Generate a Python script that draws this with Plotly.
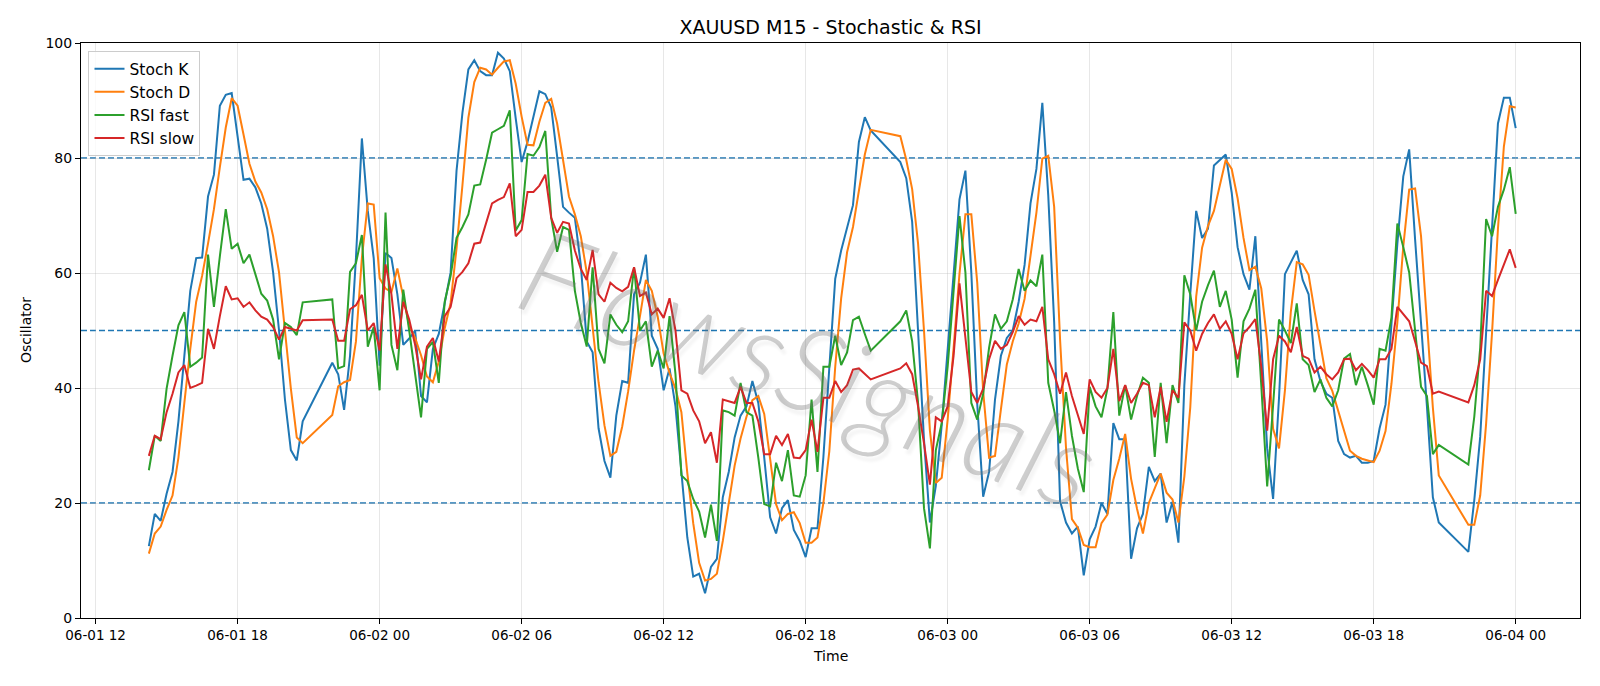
import pandas as pd
import plotly.graph_objects as go

# ---- time axis: four trading segments of 15-minute bars (gaps between them) ----
seg_starts = ["2024-06-01 14:15", "2024-06-01 22:00", "2024-06-02 22:00", "2024-06-03 22:00"]
seg_lengths = [27, 92, 92, 9]

# ---- Stochastic %K ----
stoch_k = [
    # 06-01 14:15 - 20:45
    12.5, 18.1, 16.9, 21.6, 25.4, 34.2, 45.6, 56.9, 62.6, 62.7, 73.3, 77.1, 89.1, 91.0,
    91.3, 84.0, 76.2, 76.4, 74.9, 72.1, 67.7, 60.1, 50.0, 38.0, 29.2, 27.4, 34.2,
    # 06-01 22:00 - 06-02 20:45
    44.4, 42.4, 36.2, 45.6, 62.6, 83.4, 70.8, 62.6,
    43.9, 63.5, 62.6, 56.3, 47.5, 48.6, 50.0, 38.6, 37.5, 46.8, 49.4, 55.0, 60.1, 77.8,
    87.9, 95.4, 97.0, 95.1, 94.4, 94.4, 98.3, 97.3, 95.1, 86.9,
    79.3, 82.8, 87.2, 91.6, 91.1, 88.8, 80.3, 71.5, 70.5, 69.6, 61.4, 48.1, 46.2, 33.0,
    27.3, 24.4, 35.2, 41.2, 40.9, 56.3, 58.3, 63.2, 49.1, 46.8,
    39.6, 43.4, 36.8, 25.4, 14.0, 7.2, 7.7, 4.3, 8.9, 10.3, 21.0, 25.4, 31.4, 35.2,
    36.8, 41.2, 37.4, 27.9, 17.5, 14.7, 19.1, 20.5, 15.3, 13.4,
    10.6, 15.6, 15.6, 28.0, 44.0, 59.0, 63.9, 67.7, 71.8, 82.8, 87.1, 84.8,
    # 06-02 22:00 - 06-03 20:45
    79.3, 76.5, 68.9, 49.9, 31.0, 16.6, 23.0, 33.6,
    47.0, 60.0, 72.8, 77.8, 60.0, 37.2, 21.1, 25.4, 38.0, 45.6, 48.7, 50.0, 55.0, 61.4,
    72.1, 78.1, 89.6, 73.5, 51.4, 20.3, 16.6, 14.7, 15.9, 7.4,
    13.7, 15.9, 20.0, 18.1, 33.9, 31.1, 31.1, 10.3, 15.6, 18.1, 26.3, 23.8, 25.1, 16.6,
    20.2, 13.1, 40.5, 56.3, 70.8, 66.1, 67.7, 78.7, 79.7, 80.6,
    74.0, 64.5, 59.8, 57.1, 66.4, 48.4, 29.5, 20.7, 38.3, 59.8, 61.9, 63.9, 58.8, 56.3,
    45.0, 41.2, 39.0, 38.3, 30.8, 28.5, 27.9, 28.2, 27.0, 27.0,
    27.3, 33.0, 37.1, 51.9, 65.1, 76.8, 81.5, 65.8, 52.0, 36.8, 21.0, 16.6,
    # 06-03 22:00 - 06-04 00:00
    11.5, 20.5, 31.5, 49.0, 68.0, 86.0, 90.5, 90.5, 85.2,
]

# ---- Stochastic %D ----
stoch_d = [
    11.2, 14.7, 15.9, 18.8, 21.3, 27.9, 37.4, 46.8, 55.0, 59.5, 65.1, 71.1, 78.4, 85.3,
    90.4, 89.1, 84.1, 79.0, 75.9, 74.0, 71.1, 66.4, 60.1, 50.0, 39.9, 31.4, 30.4,
    35.3, 40.3, 41.0, 41.4, 48.1, 62.6, 72.1, 71.9,
    59.1, 57.3, 56.7, 60.8, 55.8, 50.8, 48.7, 45.7, 42.0, 41.0, 44.6, 50.4, 54.8, 64.3,
    75.3, 87.0, 93.2, 95.7, 95.4, 94.5, 95.7, 96.8, 97.0, 92.9,
    87.2, 82.3, 82.2, 86.3, 89.6, 90.3, 86.0, 79.7, 73.3, 70.2, 66.4, 60.1, 51.0, 41.0,
    33.5, 28.2, 28.9, 33.3, 39.4, 46.5, 52.5, 58.8, 56.9, 52.4,
    46.0, 42.6, 39.9, 35.8, 25.2, 16.5, 9.6, 6.5, 6.8, 7.7, 13.4, 19.8, 26.5, 31.2,
    35.0, 37.9, 38.6, 35.5, 27.3, 19.8, 17.0, 18.1, 18.4, 16.5,
    13.1, 13.1, 14.0, 20.0, 29.0, 43.7, 55.6, 63.6, 68.0, 74.1, 80.6, 84.9,
    83.8, 79.7, 74.6, 65.1, 50.0, 32.6, 23.5, 24.4,
    34.5, 46.9, 59.9, 70.2, 70.2, 58.3, 39.4, 27.9, 28.2, 36.3, 44.1, 48.1, 51.2, 55.5,
    62.8, 70.5, 79.9, 80.4, 71.5, 48.4, 29.6, 17.2, 15.7, 12.7,
    12.3, 12.3, 16.5, 18.0, 24.0, 27.7, 32.0, 24.2, 19.0, 14.7, 20.0, 22.7, 25.1, 21.8,
    20.6, 16.6, 24.6, 36.6, 55.9, 64.4, 68.2, 70.8, 75.4, 79.7,
    78.1, 73.0, 66.1, 60.5, 61.1, 57.3, 48.1, 32.9, 29.5, 39.6, 53.3, 61.9, 61.5, 59.7,
    53.4, 47.5, 41.7, 39.5, 36.0, 32.5, 29.1, 28.2, 27.7, 27.4,
    27.1, 29.1, 32.5, 40.7, 51.4, 64.6, 74.5, 74.7, 66.4, 51.5, 36.6, 24.8,
    16.2, 16.2, 21.3, 33.8, 49.6, 67.7, 82.0, 89.0, 88.8,
]

# ---- RSI fast ----
rsi_fast = [
    25.7, 31.7, 30.8, 39.9, 45.6, 50.9, 53.2, 43.7, 44.4, 45.3, 63.2, 54.1, 62.9, 71.1,
    64.2, 65.1, 61.7, 63.2, 59.8, 56.4, 55.2, 51.9, 45.0, 51.3, 50.6, 49.2, 54.9,
    55.4, 43.4, 43.8, 60.2, 61.7, 66.6, 47.2, 50.6,
    39.6, 70.5, 47.5, 43.1, 57.1, 50.0, 42.0, 34.9, 46.8, 48.0, 40.9, 55.0, 59.5, 66.1,
    68.0, 70.2, 75.2, 75.4, 79.7, 84.4, 85.0, 85.6, 88.3, 67.4,
    69.2, 80.7, 80.4, 81.9, 84.7, 69.6, 63.7, 68.0, 67.5, 56.9, 51.3, 47.2, 61.0, 46.8,
    44.3, 52.8, 51.0, 49.7, 51.6, 61.0, 50.0, 51.6, 43.7, 46.5,
    43.4, 52.5, 42.4, 24.8, 23.8, 20.7, 18.5, 14.0, 19.7, 13.4, 36.1, 35.8, 35.2, 40.9,
    35.8, 35.2, 27.9, 19.8, 19.4, 27.0, 23.8, 29.2, 21.3, 21.1,
    24.8, 38.0, 25.4, 43.7, 43.7, 49.1, 44.0, 46.2, 51.8, 52.4, 49.4, 46.5,
    51.6, 53.5, 48.1, 37.4, 19.1, 12.1, 29.2, 33.9,
    43.7, 56.3, 69.9, 60.1, 37.4, 34.5, 39.0, 47.0, 52.8, 50.3, 51.6, 55.4, 60.7, 56.9,
    58.7, 57.7, 63.2, 40.9, 36.1, 30.4, 39.3, 31.7, 26.0, 21.9,
    40.2, 36.8, 34.9, 39.9, 53.2, 35.2, 40.5, 34.5, 38.6, 41.8, 40.9, 28.0, 40.9, 30.4,
    40.5, 37.4, 59.6, 56.3, 50.0, 55.0, 57.9, 60.4, 54.1, 56.9,
    51.9, 41.8, 51.6, 53.8, 57.1, 40.5, 22.9, 37.0, 51.9, 50.0, 47.8, 54.7, 45.0, 44.0,
    39.3, 41.5, 38.3, 36.8, 39.6, 45.1, 45.9, 40.5, 43.7, 40.5,
    37.1, 46.8, 46.5, 52.2, 68.6, 64.5, 60.1, 50.0, 40.2, 38.6, 28.5, 30.1,
    26.7, 35.0, 47.0, 69.4, 66.4, 71.5, 74.5, 78.4, 70.3,
]

# ---- RSI slow ----
rsi_slow = [
    28.2, 31.7, 31.1, 35.8, 39.0, 42.7, 44.0, 40.0, 40.4, 40.9, 50.3, 46.8, 52.5, 57.7,
    55.4, 55.6, 54.1, 54.9, 53.5, 52.4, 51.9, 50.6, 48.4, 50.6, 50.3, 50.0, 51.8,
    51.9, 48.2, 48.2, 53.7, 54.4, 56.2, 50.0, 51.3,
    46.5, 61.5, 56.3, 46.8, 55.0, 51.9, 47.5, 41.5, 47.2, 48.7, 44.6, 52.5, 54.1, 59.1,
    60.2, 61.7, 65.1, 65.3, 68.9, 72.1, 72.7, 73.2, 75.6, 66.4,
    67.5, 74.1, 74.1, 75.2, 77.1, 69.6, 67.0, 68.9, 68.6, 63.9, 60.7, 58.8, 64.0, 56.3,
    55.0, 58.3, 57.4, 56.8, 57.6, 61.0, 56.0, 56.6, 52.8, 53.8,
    52.2, 55.6, 50.0, 39.6, 39.0, 36.1, 34.2, 30.4, 32.3, 27.0, 38.0, 37.7, 37.4, 40.2,
    37.4, 37.4, 34.2, 28.5, 28.5, 31.7, 30.1, 32.0, 27.9, 27.8,
    29.2, 34.5, 28.9, 38.3, 38.3, 41.2, 39.3, 40.5, 43.2, 43.4, 42.5, 41.5,
    43.4, 44.3, 42.4, 36.8, 30.4, 23.2, 34.9, 34.2,
    36.8, 45.6, 58.2, 48.7, 39.3, 37.4, 39.9, 45.0, 48.2, 46.8, 47.5, 49.7, 52.5, 51.0,
    51.9, 51.6, 54.1, 45.0, 42.4, 39.0, 42.7, 38.6, 35.5, 32.0,
    41.5, 39.3, 38.3, 40.0, 46.8, 37.7, 40.5, 37.4, 39.0, 40.9, 40.5, 34.9, 40.2, 34.1,
    39.6, 38.3, 51.4, 50.0, 46.5, 49.4, 51.3, 52.8, 50.3, 51.6,
    49.4, 45.0, 49.5, 50.6, 52.0, 43.7, 32.6, 45.0, 49.1, 48.1, 46.2, 50.6, 45.6, 45.1,
    42.7, 43.7, 42.4, 41.5, 42.7, 45.0, 45.1, 43.1, 44.2, 43.1,
    41.8, 45.0, 45.0, 46.8, 54.1, 52.8, 51.6, 48.1, 44.4, 43.8, 39.0, 39.4,
    37.5, 40.5, 45.0, 56.9, 56.0, 58.8, 61.4, 64.1, 60.9,
]

levels = [20, 50, 80]
series = [("Stoch K", stoch_k, "#1f77b4"), ("Stoch D", stoch_d, "#ff7f0e"),
          ("RSI fast", rsi_fast, "#2ca02c"), ("RSI slow", rsi_slow, "#d62728")]

times = []
for s, n in zip(seg_starts, seg_lengths):
    times += list(pd.date_range(s, periods=n, freq="15min"))

FONT = "DejaVu Sans, Verdana, sans-serif"
fig = go.Figure()

for lv in levels:
    fig.add_hline(y=lv, line=dict(color="#1f77b4", width=1.3, dash="6px,3px"), layer="below")

for name, vals, col in series:
    fig.add_trace(go.Scatter(x=times, y=vals, name=name, mode="lines",
                             line=dict(color=col, width=2)))

fig.add_annotation(text="FlowsSignals", xref="paper", yref="paper", x=0.486, y=0.44,
                   showarrow=False, textangle=20,
                   font=dict(family="Lato, DejaVu Sans, sans-serif", size=118,
                             color="rgba(110,110,110,0.34)", style="italic", weight=300,
                             shadow="4px 4px 3px rgba(0,0,0,0.12)"))

fig.add_annotation(text="Time", xref="paper", yref="paper", x=0.5, y=-0.066,
                   showarrow=False, yanchor="middle",
                   font=dict(family=FONT, size=14, color="black"))
fig.add_annotation(text="Oscillator", xref="paper", yref="paper", x=-0.037, y=0.5,
                   showarrow=False, textangle=-90, xanchor="center", yanchor="middle",
                   font=dict(family=FONT, size=14, color="black"))

fig.update_layout(
    width=1600, height=686,
    margin=dict(l=81, r=20, t=43, b=68),
    paper_bgcolor="white", plot_bgcolor="white",
    font=dict(family=FONT, size=14, color="black"),
    title=dict(text="XAUUSD M15 - Stochastic & RSI", x=0.5, xref="paper",
               y=1 - 27.5 / 686, yref="container", xanchor="center", yanchor="middle",
               font=dict(family=FONT, size=19, color="black")),
    showlegend=True,
    legend=dict(x=0.005, y=0.986, xanchor="left", yanchor="top",
                bgcolor="rgba(255,255,255,0.8)", bordercolor="#cccccc", borderwidth=1,
                font=dict(family=FONT, size=15.5, color="black")),
    xaxis=dict(type="date", range=["2024-06-01 11:23", "2024-06-04 02:43"],
               tick0="2024-06-01 00:00", dtick=6 * 3600 * 1000, tickformat="%m-%d %H",
               showgrid=True, gridcolor="rgba(176,176,176,0.3)", gridwidth=1,
               showline=True, linecolor="black", linewidth=1, mirror=True,
               ticks="outside", ticklen=5, tickcolor="black", zeroline=False,
               tickfont=dict(family=FONT, size=13.5)),
    yaxis=dict(range=[0, 100], tickvals=[0, 20, 40, 60, 80, 100],
               showgrid=True, gridcolor="rgba(176,176,176,0.3)", gridwidth=1,
               showline=True, linecolor="black", linewidth=1, mirror=True,
               ticks="outside", ticklen=5, tickcolor="black", zeroline=False,
               tickfont=dict(family=FONT, size=14)),
)

fig.write_html("out.html")
